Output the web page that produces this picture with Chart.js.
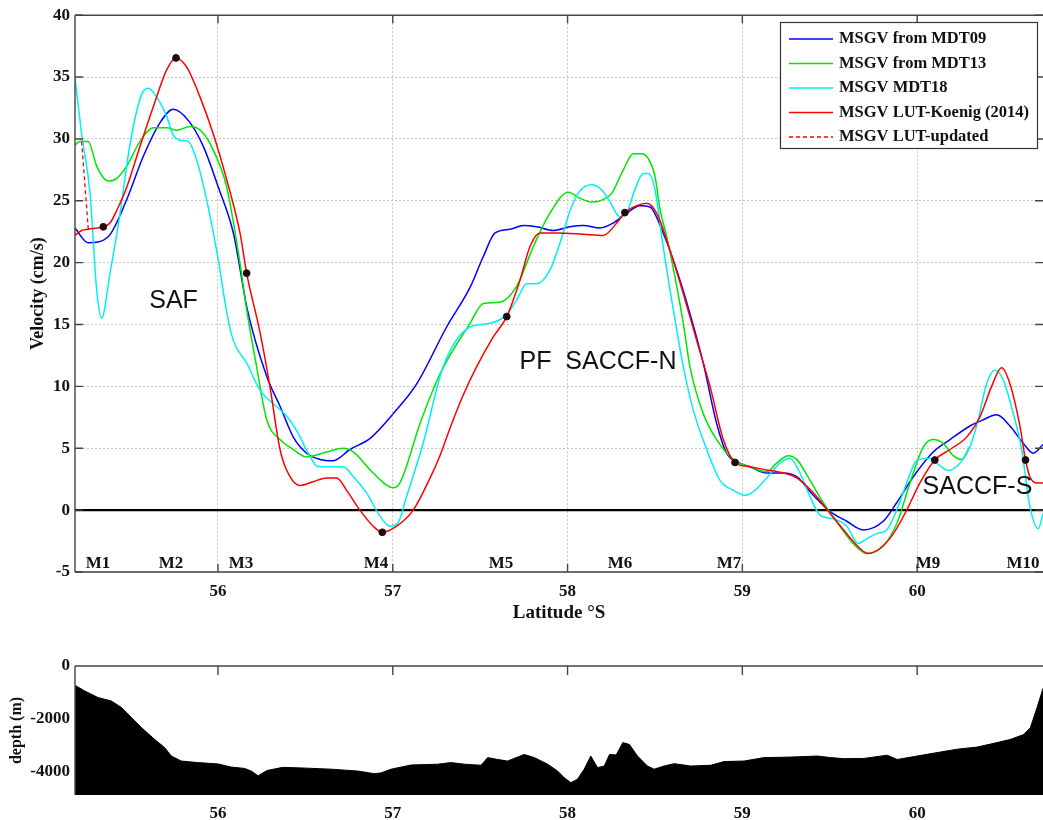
<!DOCTYPE html>
<html>
<head>
<meta charset="utf-8">
<script src="https://cdn.jsdelivr.net/npm/chart.js"></script>
<style>
  body { margin: 0; background: #fff; }
  #wrap { position: relative; width: 1043px; height: 820px; overflow: hidden; }
  canvas { position: absolute; left: 0; }
</style>
</head>
<body>
<div id="wrap">
  <canvas id="velChart" width="1043" height="640" style="top:0px"></canvas>
  <canvas id="depthChart" width="1043" height="180" style="top:640px"></canvas>
</div>
<script>
// axis ranges / ticks
const xMin = 55.182, xMax = 60.72;
const latTicks = [56, 57, 58, 59, 60];
const velTicks = [-5, 0, 5, 10, 15, 20, 25, 30, 35, 40];
const depthTicks = [-4000, -2000, 0];

// MSGV from MDT09 (blue)
const latBlue = [55.182,55.258,55.372,55.478,55.573,55.668,55.744,55.830,55.916,56.002,56.088,56.168,56.279,56.355,56.431,56.507,56.584,56.660,56.755,56.870,57.003,57.137,57.308,57.442,57.518,57.585,57.671,57.747,57.823,57.918,58.014,58.090,58.185,58.261,58.338,58.414,58.471,58.547,58.624,58.700,58.776,58.853,58.910,58.986,59.043,59.139,59.234,59.311,59.406,59.501,59.597,59.692,59.806,59.883,59.978,60.092,60.188,60.302,60.378,60.455,60.531,60.607,60.664,60.720];
const velBlue = [22.8,21.6,22.1,25.1,28.6,31.3,32.4,31.5,29.4,26.1,22.4,16.2,10.8,8.4,5.9,4.6,4.1,4.0,4.9,5.8,7.8,10.2,14.8,18.0,20.5,22.4,22.7,23.0,22.9,22.6,22.9,23.0,22.8,23.2,24.0,24.6,24.5,22.4,19.4,15.9,11.9,7.0,4.6,3.8,3.5,3.0,3.0,2.7,1.2,-0.1,-0.9,-1.6,-0.9,0.6,2.7,4.7,5.7,6.8,7.3,7.7,6.8,5.4,4.6,5.3];

// MSGV from MDT13 (green)
const latGreen = [55.182,55.21,55.258,55.306,55.372,55.41,55.478,55.554,55.63,55.707,55.764,55.84,55.907,55.973,56.05,56.12,56.164,56.221,56.279,56.355,56.431,56.507,56.622,56.717,56.774,56.888,57.003,57.041,57.156,57.27,57.442,57.518,57.613,57.709,57.804,57.899,58.004,58.071,58.138,58.204,58.252,58.319,58.376,58.424,58.462,58.5,58.529,58.567,58.614,58.662,58.70,58.776,58.853,58.948,59.043,59.139,59.196,59.262,59.311,59.387,59.463,59.558,59.634,59.711,59.806,59.883,59.959,60.035,60.092,60.149,60.207,60.254,60.30];
const velGreen = [29.5,29.8,29.8,27.8,26.6,26.7,27.8,29.8,30.9,30.9,30.7,31.0,30.6,29.1,26.1,20.5,16.2,11.6,7.3,5.7,4.9,4.3,4.7,5.0,4.7,3.0,1.8,2.2,7.0,11.0,15.1,16.7,16.8,18.1,21.3,24.0,25.7,25.2,24.9,25.1,25.6,27.5,28.8,28.8,28.4,27.0,24.3,22.1,18.9,15.1,11.6,7.8,5.7,4.1,3.5,3.1,3.8,4.4,4.1,2.4,0.6,-1.3,-2.7,-3.5,-2.9,-1.1,2.2,5.1,5.7,5.4,4.4,4.1,5.1];

// MSGV MDT18 (cyan)
const latCyan = [55.182,55.22,55.268,55.306,55.334,55.382,55.44,55.497,55.563,55.601,55.649,55.707,55.744,55.783,55.83,55.878,55.935,56.002,56.05,56.088,56.164,56.24,56.316,56.393,56.459,56.516,56.574,56.641,56.717,56.774,56.85,56.927,56.984,57.031,57.079,57.174,57.289,57.442,57.556,57.652,57.709,57.766,57.823,57.899,57.975,58.014,58.071,58.138,58.195,58.243,58.3,58.338,58.385,58.433,58.462,58.5,58.547,58.586,58.624,58.662,58.719,58.796,58.872,58.948,59.015,59.063,59.139,59.215,59.272,59.33,59.387,59.444,59.52,59.597,59.663,59.702,59.768,59.826,59.883,59.94,59.997,60.073,60.13,60.178,60.246,60.302,60.349,60.397,60.445,60.493,60.55,60.598,60.645,60.693,60.72];
const velCyan = [34.9,30.4,25.6,17.8,15.5,19.1,24.0,29.6,33.6,34.1,33.4,31.8,30.3,29.9,29.8,28.3,25.1,20.2,16.0,13.7,11.9,9.7,8.6,7.6,6.2,4.6,3.5,3.5,3.5,2.7,1.4,-0.5,-1.3,-1.0,1.1,5.4,11.6,14.8,15.1,15.8,17.0,18.3,18.3,19.4,22.4,24.2,25.8,26.3,25.9,24.9,23.7,24.0,25.9,27.2,27.2,25.9,21.3,17.8,14.6,11.6,8.1,4.9,2.4,1.6,1.2,1.5,2.6,3.8,4.2,3.0,1.1,-0.4,-0.7,-1.3,-2.7,-2.4,-1.9,-1.6,0.0,2.2,4.0,4.2,3.6,3.2,3.8,5.1,7.3,10.2,11.3,10.5,7.8,4.9,0.3,-1.5,-0.3];

// MSGV LUT-Koenig (2014) (red)
const latRed = [55.182,55.22,55.258,55.344,55.382,55.42,55.478,55.554,55.63,55.707,55.76,55.821,55.897,55.973,56.05,56.126,56.164,56.24,56.297,56.355,56.421,56.469,56.545,56.622,56.679,56.736,56.812,56.888,56.94,57.022,57.117,57.2,57.27,57.327,57.4,57.48,57.575,57.652,57.728,57.785,57.842,57.938,58.09,58.204,58.281,58.328,58.395,58.452,58.51,58.586,58.662,58.738,58.815,58.891,58.958,59.043,59.139,59.234,59.311,59.406,59.501,59.597,59.673,59.721,59.787,59.864,59.94,60.016,60.101,60.188,60.283,60.361,60.426,60.483,60.531,60.588,60.62,60.645,60.683,60.72];
const velRed = [22.2,22.6,22.7,22.9,23.2,24.2,26.1,29.4,32.6,35.6,36.55,35.8,33.4,30.4,26.7,22.4,19.15,14.4,10.0,4.9,2.5,2.0,2.3,2.6,2.6,1.6,0.0,-1.3,-1.79,-1.3,0.0,2.2,4.4,6.6,9.2,11.6,14.0,15.64,18.6,21.3,22.4,22.4,22.3,22.2,23.2,24.05,24.6,24.8,24.0,21.0,17.5,13.75,10.0,5.7,3.85,3.5,3.25,3.0,2.6,1.4,-0.25,-1.9,-3.1,-3.5,-3.1,-1.9,0.0,2.2,4.05,4.9,5.9,7.6,10.0,11.5,10.2,6.8,4.05,2.7,2.2,2.2];

// MSGV LUT-updated (red dashed)
const latRedUpd = [55.22, 55.258];
const velRedUpd = [29.8, 22.7];

// mooring points (black dots)
const latDots = [55.344, 55.76, 56.164, 56.94, 57.652, 58.328, 58.958, 60.101, 60.62];
const velDots = [22.9, 36.55, 19.15, -1.79, 15.64, 24.05, 3.85, 4.05, 4.05];

// mooring names along the bottom of the panel
const mooringNames = ['M1', 'M2', 'M3', 'M4', 'M5', 'M6', 'M7', 'M9', 'M10'];
const mooringLat = [55.313, 55.731, 56.132, 56.904, 57.619, 58.3, 58.923, 60.062, 60.605];
const mooringVel = -4.3;

// front labels
const frontNames = ['SAF', 'PF  SACCF-N', 'SACCF-S'];
const frontLat = [55.746, 58.174, 60.345];
const frontVel = [16.9, 12.0, 1.9];

// bathymetry
const latDepth = [55.173,55.238,55.314,55.39,55.448,55.505,55.562,55.638,55.695,55.733,55.79,55.886,56.0,56.076,56.152,56.19,56.23,56.28,56.37,56.47,56.648,56.8,56.895,56.933,56.99,57.105,57.257,57.333,57.41,57.505,57.543,57.6,57.657,57.752,57.81,57.886,57.943,57.98,58.019,58.057,58.095,58.133,58.171,58.21,58.24,58.278,58.316,58.354,58.4,58.457,58.495,58.552,58.61,58.705,58.819,58.895,59.01,59.124,59.276,59.429,59.505,59.581,59.695,59.829,59.886,60.0,60.114,60.229,60.343,60.457,60.533,60.61,60.648,60.686,60.72];
const depth = [-700,-950,-1200,-1330,-1580,-1960,-2340,-2790,-3100,-3420,-3610,-3670,-3720,-3840,-3890,-3990,-4170,-3970,-3850,-3870,-3920,-3990,-4090,-4060,-3920,-3760,-3730,-3670,-3730,-3770,-3480,-3550,-3610,-3360,-3480,-3730,-3990,-4240,-4430,-4300,-3920,-3420,-3860,-3800,-3360,-3380,-2910,-2980,-3420,-3800,-3920,-3800,-3710,-3800,-3770,-3630,-3610,-3480,-3460,-3420,-3480,-3520,-3510,-3390,-3550,-3420,-3290,-3160,-3080,-2910,-2790,-2600,-2340,-1580,-850];

const seriesNames = ['MSGV from MDT09', 'MSGV from MDT13', 'MSGV MDT18', 'MSGV LUT-Koenig (2014)', 'MSGV LUT-updated'];
const seriesColors = ['#0000ff', '#00e600', '#00f0f0', '#ff0000', '#ff0000'];

const SERIF = "'Liberation Serif', 'Times New Roman', serif";
const SANS = "'Liberation Sans', Arial, sans-serif";

const xy = (xs, ys) => xs.map((v, i) => ({ x: v, y: ys[i] }));

function lineSet(label, xs, ys, color, order, extra) {
    return Object.assign({
        label: label,
        data: xy(xs, ys),
        borderColor: color,
        backgroundColor: color,
        borderWidth: 1.5,
        pointRadius: 0,
        fill: false,
        cubicInterpolationMode: 'monotone',
        order: order
    }, extra || {});
}

// frame + inward tick marks, matlab style
function frameTicks(sides, xTickSides, yTickSides, len) {
    return {
        id: 'frameTicks',
        afterDatasetsDraw(chart) {
            const { ctx, chartArea: a, scales: { x, y } } = chart;
            ctx.save();
            ctx.strokeStyle = '#444';
            ctx.lineWidth = 1.4;
            ctx.beginPath();
            if (sides.includes('top')) { ctx.moveTo(a.left, a.top); ctx.lineTo(a.right, a.top); }
            if (sides.includes('bottom')) { ctx.moveTo(a.left, a.bottom); ctx.lineTo(a.right, a.bottom); }
            if (sides.includes('left')) { ctx.moveTo(a.left, a.top); ctx.lineTo(a.left, a.bottom); }
            ctx.stroke();
            ctx.beginPath();
            x.ticks.forEach(t => {
                const px = x.getPixelForValue(t.value);
                if (xTickSides.includes('bottom')) { ctx.moveTo(px, a.bottom); ctx.lineTo(px, a.bottom - len); }
                if (xTickSides.includes('top')) { ctx.moveTo(px, a.top); ctx.lineTo(px, a.top + len); }
            });
            y.ticks.forEach(t => {
                const py = y.getPixelForValue(t.value);
                if (yTickSides.includes('left')) { ctx.moveTo(a.left, py); ctx.lineTo(a.left + len, py); }
                if (yTickSides.includes('right')) { ctx.moveTo(a.right, py); ctx.lineTo(a.right - len, py); }
            });
            ctx.stroke();
            ctx.restore();
        }
    };
}

const textMarks = {
    id: 'textMarks',
    afterDatasetsDraw(chart) {
        const { ctx, scales: { x, y } } = chart;
        ctx.save();
        ctx.fillStyle = '#111';
        ctx.textAlign = 'center';
        ctx.textBaseline = 'middle';
        ctx.font = `25px ${SANS}`;
        frontNames.forEach((s, i) => ctx.fillText(s, x.getPixelForValue(frontLat[i]), y.getPixelForValue(frontVel[i])));
        ctx.font = `bold 17px ${SERIF}`;
        mooringNames.forEach((s, i) => ctx.fillText(s, x.getPixelForValue(mooringLat[i]), y.getPixelForValue(mooringVel)));
        ctx.restore();
    }
};

const legendBox = {
    id: 'legendBox',
    afterDraw(chart) {
        const ctx = chart.ctx;
        ctx.save();
        ctx.fillStyle = '#fff';
        ctx.fillRect(780.5, 22.5, 257, 126);
        ctx.strokeStyle = '#333';
        ctx.lineWidth = 1.2;
        ctx.strokeRect(780.5, 22.5, 257, 126);
        ctx.font = `bold 16.5px ${SERIF}`;
        ctx.textBaseline = 'middle';
        ctx.textAlign = 'left';
        seriesNames.forEach((name, i) => {
            const yy = 39 + i * 24.5;
            ctx.strokeStyle = seriesColors[i];
            ctx.lineWidth = 1.5;
            ctx.setLineDash(i === 4 ? [4, 3] : []);
            ctx.beginPath();
            ctx.moveTo(789, yy);
            ctx.lineTo(833, yy);
            ctx.stroke();
            ctx.fillStyle = '#111';
            ctx.fillText(name, 839, yy);
        });
        ctx.restore();
    }
};

const tickFont = { family: SERIF, weight: 'bold', size: 17 };

new Chart(document.getElementById('velChart'), {
    type: 'line',
    data: {
        datasets: [
            lineSet('zero', [xMin, xMax], [0, 0], '#000', 9, { borderWidth: 2.4, cubicInterpolationMode: 'default', tension: 0 }),
            lineSet(seriesNames[0], latBlue, velBlue, seriesColors[0], 6),
            lineSet(seriesNames[1], latGreen, velGreen, seriesColors[1], 5),
            lineSet(seriesNames[2], latCyan, velCyan, seriesColors[2], 4),
            lineSet(seriesNames[3], latRed, velRed, seriesColors[3], 3),
            lineSet(seriesNames[4], latRedUpd, velRedUpd, seriesColors[4], 2, { borderDash: [4, 3], borderWidth: 1.3 }),
            {
                label: 'moorings',
                data: xy(latDots, velDots),
                showLine: false,
                pointRadius: 3.4,
                pointBackgroundColor: '#111',
                pointBorderColor: '#300',
                pointBorderWidth: 1,
                order: 0
            }
        ]
    },
    options: {
        responsive: false,
        animation: false,
        devicePixelRatio: 1,
        layout: { autoPadding: false, padding: { top: 15, left: 0, right: 0, bottom: 0 } },
        plugins: { legend: { display: false }, tooltip: { enabled: false } },
        scales: {
            x: {
                type: 'linear', min: xMin, max: xMax,
                afterBuildTicks: s => { s.ticks = latTicks.map(v => ({ value: v })); },
                afterFit: s => { s.height = 68; },
                grid: { color: '#c4c4c4', lineWidth: 1, drawTicks: false },
                border: { display: false, dash: [2, 2] },
                ticks: { padding: 9, color: '#111', font: tickFont, maxRotation: 0 },
                title: { display: true, text: 'Latitude °S', color: '#111', font: { family: SERIF, weight: 'bold', size: 19 }, padding: { top: 0, bottom: 16 } }
            },
            y: {
                type: 'linear', min: -5, max: 40,
                afterBuildTicks: s => { s.ticks = velTicks.map(v => ({ value: v })); },
                afterFit: s => { s.width = 75; },
                grid: { color: '#c4c4c4', lineWidth: 1, drawTicks: false },
                border: { display: false, dash: [2, 2] },
                ticks: { padding: 5, color: '#111', font: tickFont },
                title: { display: true, text: 'Velocity (cm/s)', color: '#111', font: { family: SERIF, weight: 'bold', size: 18 }, padding: { top: 28, bottom: 0 } }
            }
        }
    },
    plugins: [frameTicks(['top', 'bottom', 'left'], ['top', 'bottom'], ['left', 'right'], 8), textMarks, legendBox]
});

new Chart(document.getElementById('depthChart'), {
    type: 'line',
    data: {
        datasets: [{
            label: 'depth',
            data: xy(latDepth, depth),
            borderColor: '#000',
            backgroundColor: '#000',
            borderWidth: 1,
            pointRadius: 0,
            tension: 0,
            fill: 'start'
        }]
    },
    options: {
        responsive: false,
        animation: false,
        devicePixelRatio: 1,
        layout: { autoPadding: false, padding: { top: 26, left: 0, right: 0, bottom: 0 } },
        plugins: { legend: { display: false }, tooltip: { enabled: false } },
        scales: {
            x: {
                type: 'linear', min: xMin, max: xMax,
                afterBuildTicks: s => { s.ticks = latTicks.map(v => ({ value: v })); },
                afterFit: s => { s.height = 25; },
                grid: { display: false, drawTicks: false },
                border: { display: false },
                ticks: { padding: 8, color: '#111', font: tickFont, maxRotation: 0 }
            },
            y: {
                type: 'linear', min: -4900, max: 0,
                afterBuildTicks: s => { s.ticks = depthTicks.map(v => ({ value: v })); },
                afterFit: s => { s.width = 75; },
                grid: { display: false, drawTicks: false },
                border: { display: false },
                ticks: { padding: 5, color: '#111', font: tickFont, callback: v => String(v) },
                title: { display: true, text: 'depth (m)', color: '#111', font: { family: SERIF, weight: 'bold', size: 16 }, padding: { top: 7, bottom: 0 } }
            }
        }
    },
    plugins: [frameTicks(['top', 'left'], ['top'], [], 9)]
});
</script>
</body>
</html>
